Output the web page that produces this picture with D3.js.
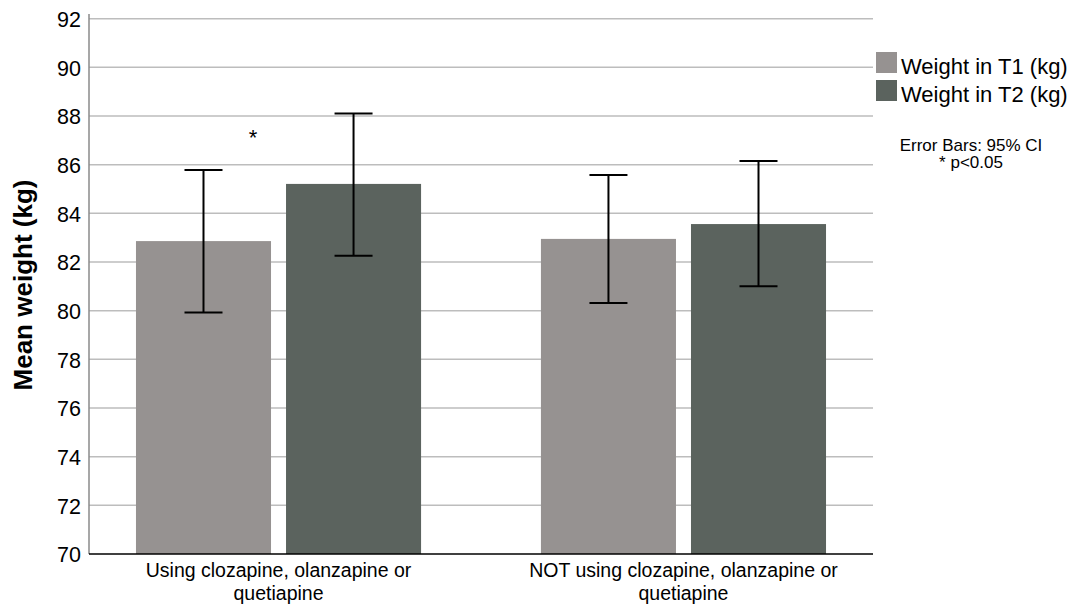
<!DOCTYPE html>
<html lang="en">
<head>
<meta charset="utf-8">
<title>Mean weight</title>
<script src="https://d3js.org/d3.v7.min.js"></script>
<style>
  body { margin: 0; background: #fff; }
  svg text { font-family: "Liberation Sans", Arial, sans-serif; fill: #000; }
</style>
</head>
<body>
<script>
// data
const groups = ["Using clozapine, olanzapine or quetiapine", "NOT using clozapine, olanzapine or quetiapine"];
const groupLines = [["Using clozapine, olanzapine or", "quetiapine"], ["NOT using clozapine, olanzapine or", "quetiapine"]];
const series = ["Weight in T1 (kg)", "Weight in T2 (kg)"];
const meanT1 = [82.86, 82.95];
const meanT2 = [85.21, 83.56];
const lowT1 = [79.93, 80.32];
const highT1 = [85.78, 85.58];
const lowT2 = [82.26, 81.0];
const highT2 = [88.1, 86.15];
const yTicks = [70, 72, 74, 76, 78, 80, 82, 84, 86, 88, 90, 92];
const colors = ["#969291", "#5b635e"];

const W = 1073, H = 607;
const plotL = 89, plotR = 873, plotT = 18.7, plotB = 554;

const rows = [];
groups.forEach((g, i) => {
  rows.push({ g, s: series[0], v: meanT1[i], lo: lowT1[i], hi: highT1[i] });
  rows.push({ g, s: series[1], v: meanT2[i], lo: lowT2[i], hi: highT2[i] });
});

const svg = d3.select("body").append("svg").attr("width", W).attr("height", H);

const x0 = d3.scaleBand().domain(groups).range([plotL, plotR]).paddingInner(0.296).paddingOuter(0.116);
const x1 = d3.scaleBand().domain(series).range([0, x0.bandwidth()]).paddingInner(0.1);
const y = d3.scaleLinear().domain([70, 92]).range([plotB, plotT]);
const color = d3.scaleOrdinal().domain(series).range(colors);

// gridlines
svg.append("g")
  .selectAll("line")
  .data(yTicks.filter(t => t > 70))
  .join("line")
  .attr("x1", plotL).attr("x2", plotR)
  .attr("y1", d => y(d)).attr("y2", d => y(d))
  .attr("stroke", "#bdbdbd").attr("stroke-width", 1.5);

// bars
svg.append("g")
  .selectAll("rect")
  .data(rows)
  .join("rect")
  .attr("x", d => x0(d.g) + x1(d.s))
  .attr("y", d => y(d.v))
  .attr("width", x1.bandwidth())
  .attr("height", d => y(70) - y(d.v))
  .attr("fill", d => color(d.s));

// error bars
const eb = svg.append("g").attr("stroke", "#000").attr("stroke-width", 2);
rows.forEach(d => {
  const cx = x0(d.g) + x1(d.s) + x1.bandwidth() / 2;
  eb.append("line").attr("x1", cx).attr("x2", cx).attr("y1", y(d.lo)).attr("y2", y(d.hi));
  eb.append("line").attr("x1", cx - 19).attr("x2", cx + 19).attr("y1", y(d.hi)).attr("y2", y(d.hi));
  eb.append("line").attr("x1", cx - 19).attr("x2", cx + 19).attr("y1", y(d.lo)).attr("y2", y(d.lo));
});

// y axis
const yAxis = svg.append("g")
  .attr("transform", `translate(${plotL},0)`)
  .call(d3.axisLeft(y).tickValues(yTicks).tickSize(0).tickPadding(8));
yAxis.select(".domain").remove();
yAxis.selectAll("text").style("font-size", "21.5px").attr("dy", "0.36em");
svg.append("line")
  .attr("x1", plotL).attr("x2", plotL).attr("y1", 14).attr("y2", plotB)
  .attr("stroke", "#8a8a8a").attr("stroke-width", 1.5);

// x axis
svg.append("line")
  .attr("x1", plotL).attr("x2", plotR).attr("y1", plotB).attr("y2", plotB)
  .attr("stroke", "#000").attr("stroke-width", 1.5);
groups.forEach((g, i) => {
  const cx = x0(g) + x0.bandwidth() / 2;
  groupLines[i].forEach((ln, j) => {
    svg.append("text")
      .attr("x", cx)
      .attr("y", 577 + j * 23)
      .attr("text-anchor", "middle")
      .style("font-size", "19.5px")
      .text(ln);
  });
});

// y title
svg.append("text")
  .attr("transform", `translate(32,285) rotate(-90)`)
  .attr("text-anchor", "middle")
  .style("font-size", "26px").style("font-weight", "bold")
  .text("Mean weight (kg)");

// significance marker
svg.append("text")
  .attr("x", 253).attr("y", 145)
  .attr("text-anchor", "middle")
  .style("font-size", "22px")
  .text("*");

// legend
const lg = svg.append("g");
series.forEach((s, i) => {
  lg.append("rect").attr("x", 876).attr("y", 52 + i * 28).attr("width", 21).attr("height", 21).attr("fill", colors[i]);
  lg.append("text").attr("x", 901).attr("y", 73.5 + i * 28).style("font-size", "22px").text(s);
});
svg.append("text").attr("x", 971).attr("y", 151).attr("text-anchor", "middle").style("font-size", "17px").text("Error Bars: 95% CI");
svg.append("text").attr("x", 971).attr("y", 168).attr("text-anchor", "middle").style("font-size", "17px").text("* p<0.05");
</script>
</body>
</html>
